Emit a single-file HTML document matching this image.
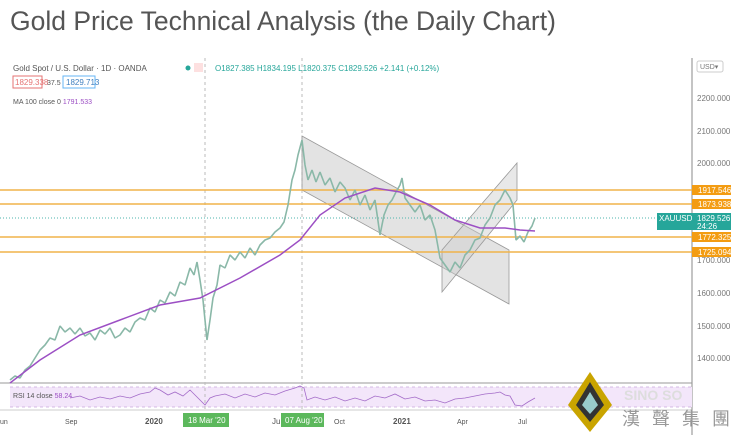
<!DOCTYPE html>
<html><head><meta charset="utf-8"><style>
body{margin:0;width:731px;height:435px;overflow:hidden;background:#fff;font-family:"Liberation Sans",sans-serif}
</style></head><body>
<svg width="731" height="435" xmlns="http://www.w3.org/2000/svg" font-family="Liberation Sans, sans-serif">
<text x="10" y="30" font-size="26.5" fill="#555">Gold Price Technical Analysis (the Daily Chart)</text>
<line x1="692" y1="58" x2="692" y2="435" stroke="#888"/>
<line x1="0" y1="383" x2="692" y2="383" stroke="#999"/>
<line x1="0" y1="410" x2="692" y2="410" stroke="#ccc"/>
<rect x="10" y="387" width="682" height="20" fill="#f3e6fa"/>
<line x1="10" y1="387" x2="692" y2="387" stroke="#c9a6dc" stroke-dasharray="3,3" stroke-width="0.7"/>
<line x1="10" y1="407" x2="692" y2="407" stroke="#c9a6dc" stroke-dasharray="3,3" stroke-width="0.7"/>
<line x1="205" y1="58" x2="205" y2="410" stroke="#bbb" stroke-dasharray="3,3"/>
<line x1="302" y1="58" x2="302" y2="410" stroke="#bbb" stroke-dasharray="3,3"/>
<g font-size="8" fill="#777">
<text x="697" y="101">2200.000</text><text x="697" y="134">2100.000</text><text x="697" y="166">2000.000</text>
<text x="697" y="263">1700.000</text><text x="697" y="296">1600.000</text><text x="697" y="329">1500.000</text><text x="697" y="361">1400.000</text>
</g>
<rect x="697" y="61" width="26" height="11" rx="2" fill="#fff" stroke="#ccc"/><text x="700" y="69" font-size="7" fill="#777">USD▾</text>
<polygon points="302,136 509,250 509,304 302,190" fill="#ccc" fill-opacity="0.55" stroke="#999" stroke-width="0.8"/>
<polygon points="442,250 517,163 517,200 442,292" fill="#ccc" fill-opacity="0.45" stroke="#999" stroke-width="0.8"/>
<g stroke="#f0b34a" stroke-width="1.5">
<line x1="0" y1="190" x2="692" y2="190"/><line x1="0" y1="204" x2="692" y2="204"/>
<line x1="0" y1="237" x2="692" y2="237"/><line x1="0" y1="252" x2="692" y2="252"/></g>
<line x1="0" y1="218" x2="692" y2="218" stroke="#4db6ac" stroke-dasharray="1,2"/>
<polyline fill="none" stroke="#8ab8a8" stroke-width="1.6" stroke-linejoin="bevel" points="10,380 15,376 20,378 25,370 30,366 35,358 40,350 45,345 50,338 55,340 60,326 65,332 70,328 75,334 80,328 85,336 90,333 95,340 100,330 105,334 110,328 115,338 120,335 125,328 130,332 135,322 140,318 145,320 150,308 155,312 160,300 165,303 170,292 175,296 180,282 185,285 190,268 194,275 197,262 200,280 203,300 207,340 210,320 213,298 217,285 220,265 225,268 230,255 235,260 240,252 245,258 250,248 255,255 260,245 265,240 270,238 275,232 280,228 284,222 288,205 292,180 295,170 298,155 302,140 305,165 308,180 312,170 316,182 320,172 325,185 330,178 335,192 340,182 345,188 350,200 355,190 360,205 365,195 370,210 375,200 380,235 384,215 388,205 392,200 396,192 400,185 402,178 405,198 410,205 415,212 420,205 425,220 430,215 435,230 440,258 445,265 450,272 455,262 460,268 465,255 470,250 475,240 480,238 485,225 490,218 495,205 500,200 505,190 510,198 513,205 516,240 520,236 524,242 528,232 532,226 535,218"/>
<polyline fill="none" stroke="#9c4fc4" stroke-width="1.5" points="10,383 40,360 80,335 120,320 160,305 200,298 240,278 280,255 300,240 320,215 345,198 375,188 400,192 430,205 455,220 480,228 505,228 520,230 535,231"/>
<polyline fill="none" stroke="#a36bc8" stroke-width="0.8" points="70,398 80,396 90,400 100,397 110,399 120,396 130,398 140,394 150,392 155,388 160,390 168,395 175,392 183,396 190,390 198,398 205,405 210,398 215,396 225,394 235,398 245,394 255,397 265,393 275,395 285,391 295,388 300,386 304,388 307,400 315,397 325,400 335,397 345,401 355,398 365,401 375,396 385,398 395,394 405,399 415,397 425,401 435,400 445,403 455,399 465,398 475,396 485,394 495,393 500,392 505,395 510,396 515,405 522,406 528,402 535,398"/>
<g font-size="8" fill="#fff">
<rect x="692" y="185" width="39" height="10" fill="#f39c12"/><text x="698" y="193">1917.546</text>
<rect x="692" y="199" width="39" height="10" fill="#f39c12"/><text x="698" y="207">1873.938</text>
<rect x="657" y="213" width="74" height="17" fill="#26a69a"/><text x="659" y="221">XAUUSD</text><text x="697" y="221">1829.526</text><text x="697" y="229">24:26</text>
<rect x="692" y="232" width="39" height="10" fill="#f39c12"/><text x="698" y="240">1772.325</text>
<rect x="692" y="247" width="39" height="10" fill="#f39c12"/><text x="698" y="255">1725.094</text>
</g>
<g font-size="8" fill="#555">
<text x="13" y="71">Gold Spot / U.S. Dollar · 1D · OANDA</text>
<text x="215" y="71" fill="#26a69a">O1827.385 H1834.195 L1820.375 C1829.526 +2.141 (+0.12%)</text>
<circle cx="188" cy="68" r="2.5" fill="#26a69a"/><rect x="194" y="63" width="9" height="9" fill="#fde0e0"/>
<rect x="13" y="76" width="29" height="12" fill="#fff" stroke="#e57373"/><text x="15" y="85" fill="#e57373">1829.338</text>
<text x="47" y="85" font-size="7">37.5</text>
<rect x="63" y="76" width="32" height="12" fill="#fff" stroke="#64b5f6"/><text x="66" y="85" fill="#3f7fbf">1829.713</text>
<text x="13" y="104" font-size="7">MA 100 close 0 <tspan fill="#9c4fc4">1791.533</tspan></text>
<text x="13" y="398" font-size="7">RSI 14 close <tspan fill="#9c4fc4">58.24</tspan></text>
<text x="0" y="424" font-size="7">un</text><text x="65" y="424" font-size="7">Sep</text>
<text x="145" y="424" font-weight="bold">2020</text><text x="272" y="424">Ju</text>
<text x="334" y="424" font-size="7">Oct</text><text x="393" y="424" font-weight="bold">2021</text>
<text x="457" y="424" font-size="7">Apr</text><text x="518" y="424" font-size="7">Jul</text>
</g>
<rect x="183" y="413" width="46" height="14" fill="#5cb85c"/><text x="188" y="423" font-size="8" fill="#fff">18 Mar '20</text>
<rect x="281" y="413" width="43" height="14" fill="#5cb85c"/><text x="285" y="423" font-size="8" fill="#fff">07 Aug '20</text>
<polygon points="590,372 612,405 590,432 568,405" fill="#c9a400"/>
<polygon points="590,382 604,405 590,422 576,405" fill="#333"/>
<polygon points="590,392 598,405 590,414 582,405" fill="#9cc"/>
<text x="624" y="400" font-size="14" fill="#ddd" font-weight="bold">SINO SO</text>
<text x="622" y="425" font-size="18" fill="#999" font-family="Noto Sans CJK TC, sans-serif" letter-spacing="12">漢聲集團</text>
</svg>
</body></html>
